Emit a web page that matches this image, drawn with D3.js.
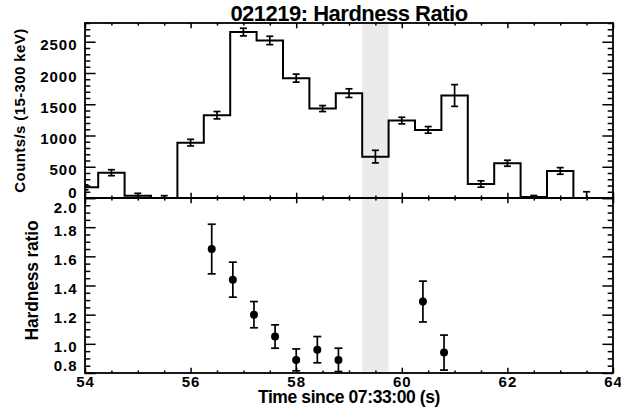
<!DOCTYPE html>
<html>
<head>
<meta charset="utf-8">
<script src="https://cdn.jsdelivr.net/npm/d3@7"></script>
<style>
  body { margin: 0; background: #fff; }
  text { font-family: "Liberation Sans", Arial, Helvetica, sans-serif; font-weight: bold; fill: #000; }
</style>
</head>
<body>
<svg id="chart" width="621" height="410"></svg>
<script>
// ---- Light curve: counts per 0.5 s bin (15-300 keV) ----
const binCenters  = [54.0, 54.5, 55.0, 55.5, 56.0, 56.5, 57.0, 57.5, 58.0, 58.5,
                     59.0, 59.5, 60.0, 60.5, 61.0, 61.5, 62.0, 62.5, 63.0, 63.5];
const countValues = [171, 405, 37, 0, 886, 1325, 2655, 2521, 1918, 1431,
                     1678, 662, 1239, 1090, 1640, 224, 556, 15, 433, 0];
const countErrors = [40, 48, 38, 37, 53, 59, 61, 67, 64, 48,
                     69, 101, 53, 53, 174, 51, 48, 25, 53, 100];
const binWidth = 0.5;

// ---- Hardness ratio points ----
const hardTimes  = [56.4, 56.8, 57.2, 57.6, 58.0, 58.4, 58.8, 60.4, 60.8];
const hardValues = [1.65, 1.44, 1.20, 1.05, 0.89, 0.96, 0.89, 1.29, 0.94];
const hardErrors = [0.17, 0.12, 0.09, 0.08, 0.075, 0.09, 0.08, 0.14, 0.12];

// ---- Highlighted interval ----
const shadeInterval = [59.25, 59.75];

// ---- Axis ticks ----
const timeMajor  = [54, 56, 58, 60, 62, 64];
const countMajor = [0, 500, 1000, 1500, 2000, 2500];
const hardMajor  = [0.8, 1.0, 1.2, 1.4, 1.6, 1.8, 2.0];
const hardLabels = ["0.8", "1.0", "1.2", "1.4", "1.6", "1.8", "2.0"];

const titleText  = "021219: Hardness Ratio";
const xTitleText = "Time since 07:33:00 (s)";
const yTitleTop  = "Counts/s (15-300 keV)";
const yTitleBot  = "Hardness ratio";

// ---- Layout ----
const X0 = 85, X1 = 613, Y_TOP = 23, Y_MID = 198, Y_BOT = 373;

const svg = d3.select("#chart");

const x  = d3.scaleLinear().domain([54, 64]).range([X0, X1]);
const yC = d3.scaleLinear().domain([0, 2800]).range([Y_MID, Y_TOP]);
const yH = d3.scaleLinear().domain([0.8, 2.0]).range([Y_BOT, Y_MID]);

const timeMinor  = d3.range(54, 64.001, 0.5).filter(v => !timeMajor.some(m => Math.abs(m - v) < 1e-6));
const countMinor = d3.range(0, 2800.1, 100).filter(v => v % 500 !== 0);
const hardMinor  = d3.range(0, 25).map(i => +(0.8 + i * 0.05).toFixed(2))
                     .filter(v => v <= 2.0 && !hardMajor.some(m => Math.abs(m - v) < 1e-6));

// clip paths for both panels
const defs = svg.append("defs");
defs.append("clipPath").attr("id", "clipTop").append("rect")
  .attr("x", X0).attr("y", Y_TOP).attr("width", X1 - X0).attr("height", Y_MID - Y_TOP);
defs.append("clipPath").attr("id", "clipBot").append("rect")
  .attr("x", X0).attr("y", Y_MID).attr("width", X1 - X0).attr("height", Y_BOT - Y_MID);

// shaded interval across both panels
svg.append("rect")
  .attr("x", x(shadeInterval[0]))
  .attr("y", Y_TOP)
  .attr("width", x(shadeInterval[1]) - x(shadeInterval[0]))
  .attr("height", Y_BOT - Y_TOP)
  .attr("fill", "#ebebeb");

// ---- Top panel: stepped histogram with error bars ----
const gTop = svg.append("g").attr("clip-path", "url(#clipTop)");
const stepPts = binCenters.map((c, i) => [c - binWidth / 2, countValues[i]]);
stepPts.push([binCenters[binCenters.length - 1] + binWidth / 2, countValues[countValues.length - 1]]);
const stepLine = d3.line().x(d => x(d[0])).y(d => yC(d[1])).curve(d3.curveStepAfter);
gTop.append("path")
  .attr("d", stepLine(stepPts))
  .attr("fill", "none").attr("stroke", "#000").attr("stroke-width", 2);

const capTop = 3.5;
const eTop = gTop.selectAll("g.eb").data(binCenters).join("g").attr("class", "eb")
  .attr("stroke", "#000").attr("stroke-width", 1.7);
eTop.append("line")
  .attr("x1", d => x(d)).attr("x2", d => x(d))
  .attr("y1", (d, i) => yC(countValues[i] - countErrors[i]))
  .attr("y2", (d, i) => yC(countValues[i] + countErrors[i]));
eTop.append("line")
  .attr("x1", d => x(d) - capTop).attr("x2", d => x(d) + capTop)
  .attr("y1", (d, i) => yC(countValues[i] + countErrors[i]))
  .attr("y2", (d, i) => yC(countValues[i] + countErrors[i]));
eTop.append("line")
  .attr("x1", d => x(d) - capTop).attr("x2", d => x(d) + capTop)
  .attr("y1", (d, i) => yC(countValues[i] - countErrors[i]))
  .attr("y2", (d, i) => yC(countValues[i] - countErrors[i]));

// ---- Bottom panel: hardness ratio points ----
const gBot = svg.append("g").attr("clip-path", "url(#clipBot)");
const capBot = 4;
const eBot = gBot.selectAll("g.hp").data(hardTimes).join("g").attr("class", "hp")
  .attr("stroke", "#000").attr("stroke-width", 1.7);
eBot.append("line")
  .attr("x1", d => x(d)).attr("x2", d => x(d))
  .attr("y1", (d, i) => yH(hardValues[i] - hardErrors[i]))
  .attr("y2", (d, i) => yH(hardValues[i] + hardErrors[i]));
eBot.append("line")
  .attr("x1", d => x(d) - capBot).attr("x2", d => x(d) + capBot)
  .attr("y1", (d, i) => yH(hardValues[i] + hardErrors[i]))
  .attr("y2", (d, i) => yH(hardValues[i] + hardErrors[i]));
eBot.append("line")
  .attr("x1", d => x(d) - capBot).attr("x2", d => x(d) + capBot)
  .attr("y1", (d, i) => yH(hardValues[i] - hardErrors[i]))
  .attr("y2", (d, i) => yH(hardValues[i] - hardErrors[i]));
eBot.append("circle")
  .attr("cx", d => x(d)).attr("cy", (d, i) => yH(hardValues[i]))
  .attr("r", 4).attr("fill", "#000").attr("stroke", "none");

// ---- Axes: inward ticks on all four sides of each panel ----
const X_MAJ = 5.3, X_MIN = 2.6, Y_MAJ = 10.6, Y_MIN = 5.3;

function tickGroup(axis, tx, ty) {
  const g = svg.append("g").attr("transform", `translate(${tx},${ty})`).call(axis);
  g.select(".domain").remove();
  g.selectAll(".tick line").attr("stroke", "#000").attr("stroke-width", 1.5);
  return g;
}

function xTicks(yPos, dir) {
  // dir = 1: ticks point down from the line, -1: ticks point up
  const gen = dir > 0 ? d3.axisTop : d3.axisBottom;
  tickGroup(gen(x).tickValues(timeMinor).tickSize(-X_MIN).tickFormat(""), 0, yPos);
  return tickGroup(gen(x).tickValues(timeMajor).tickSize(-X_MAJ).tickFormat(""), 0, yPos);
}
xTicks(Y_TOP, 1);
xTicks(Y_MID, -1);
xTicks(Y_MID, 1);
xTicks(Y_BOT, -1);

function yTicks(scale, major, minor) {
  tickGroup(d3.axisLeft(scale).tickValues(minor).tickSize(-Y_MIN).tickFormat(""), X0, 0);
  tickGroup(d3.axisLeft(scale).tickValues(major).tickSize(-Y_MAJ).tickFormat(""), X0, 0);
  tickGroup(d3.axisRight(scale).tickValues(minor).tickSize(-Y_MIN).tickFormat(""), X1, 0);
  tickGroup(d3.axisRight(scale).tickValues(major).tickSize(-Y_MAJ).tickFormat(""), X1, 0);
}
yTicks(yC, countMajor, countMinor);
yTicks(yH, hardMajor, hardMinor);

// panel frames
[[Y_TOP, Y_MID], [Y_MID, Y_BOT]].forEach(([a, b]) => {
  svg.append("rect").attr("x", X0).attr("y", a).attr("width", X1 - X0).attr("height", b - a)
    .attr("fill", "none").attr("stroke", "#000").attr("stroke-width", 1.8);
});

// ---- Tick labels ----
function styleLabels(g) {
  g.attr("font-family", null).attr("font-size", null);
  g.selectAll("text")
    .style("font-family", "'Liberation Sans', Arial, sans-serif")
    .style("font-weight", "bold").style("font-size", "15px")
    .style("letter-spacing", "1px").attr("fill", "#000");
}

// count labels (left)
const gCL = svg.append("g").attr("transform", `translate(${X0},0)`)
  .call(d3.axisLeft(yC).tickValues(countMajor).tickSize(0).tickPadding(7.5).tickFormat(d3.format("d")));
gCL.select(".domain").remove();
styleLabels(gCL);
gCL.selectAll(".tick text").attr("dy", null).attr("y", d => d === 0 ? -1 : 8);

// hardness labels (left)
const gHL = svg.append("g").attr("transform", `translate(${X0},0)`)
  .call(d3.axisLeft(yH).tickValues(hardMajor).tickSize(0).tickPadding(7.5)
    .tickFormat((d, i) => hardLabels[i]));
gHL.select(".domain").remove();
styleLabels(gHL);
gHL.selectAll(".tick text").attr("dy", null)
  .attr("y", d => Math.abs(d - 2.0) < 1e-6 ? 14 : (Math.abs(d - 0.8) < 1e-6 ? -3 : 8));

// time labels (bottom)
const gTL = svg.append("g").attr("transform", `translate(0,${Y_BOT})`)
  .call(d3.axisBottom(x).tickValues(timeMajor).tickSize(0).tickPadding(0).tickFormat(d3.format("d")));
gTL.select(".domain").remove();
styleLabels(gTL);
gTL.selectAll(".tick text").attr("dy", null).attr("y", 13.5);

// ---- Titles ----
svg.append("text")
  .attr("x", (X0 + X1) / 2).attr("y", 21)
  .attr("text-anchor", "middle")
  .style("font-size", "22px").style("letter-spacing", "-0.5px")
  .text(titleText);

svg.append("text")
  .attr("x", (X0 + X1) / 2).attr("y", 403)
  .attr("text-anchor", "middle")
  .style("font-size", "17.5px").style("letter-spacing", "-0.4px")
  .text(xTitleText);

svg.append("text")
  .attr("transform", `translate(25,${(Y_TOP + Y_MID) / 2}) rotate(-90)`)
  .attr("text-anchor", "middle")
  .style("font-size", "15px").style("letter-spacing", "0.4px")
  .text(yTitleTop);

svg.append("text")
  .attr("transform", `translate(38,${(Y_MID + Y_BOT) / 2 - 5}) rotate(-90)`)
  .attr("text-anchor", "middle")
  .style("font-size", "17.5px").style("letter-spacing", "-0.2px")
  .text(yTitleBot);
</script>
</body>
</html>
